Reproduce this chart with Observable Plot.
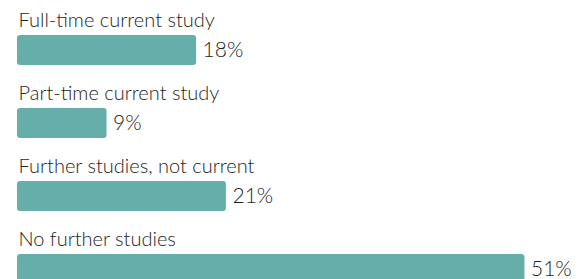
<!DOCTYPE html>
<html>
<head>
<meta charset="utf-8">
<script src="https://cdn.jsdelivr.net/npm/d3@7"></script>
<script src="https://cdn.jsdelivr.net/npm/@observablehq/plot@0.6"></script>
<style>
  html, body { margin: 0; padding: 0; background: #fff; }
  #chart svg { display: block; }
</style>
</head>
<body>
<div id="chart"></div>
<script>
const categories = [
  "Full-time current study",
  "Part-time current study",
  "Further studies, not current",
  "No further studies"
];
const values = [18, 9, 21, 51];
const valueLabels = ["18%", "9%", "21%", "51%"];

const data = categories.map((c, i) => ({category: c, value: values[i], label: valueLabels[i]}));

const W = 581, H = 279;
const chart = Plot.plot({
  width: W,
  height: H,
  marginLeft: 0,
  marginRight: 0,
  marginTop: 0,
  marginBottom: 0,
  style: {fontFamily: "Lato, sans-serif", background: "#fff", overflow: "hidden"},
  x: {domain: [0, 56], range: [17, 17 + 56 * 9.95], axis: null},
  y: {domain: categories, range: [0, 292], padding: 0, axis: null},
  marks: [
    Plot.barX(data, {
      x1: 0, x2: "value", y: "category",
      fill: "#66aea9", insetTop: 35, insetBottom: 8, rx: 3
    }),
    Plot.text(data, {
      x: 0, y: "category", text: "category",
      textAnchor: "start", dx: 1, dy: -16, fontSize: 20, fontWeight: 300, fill: "#1e1e1e"
    }),
    Plot.text(data, {
      x: "value", y: "category", text: "label",
      textAnchor: "start", dx: 6, dy: 13, fontSize: 21, fontWeight: 300, fill: "#1e1e1e"
    })
  ]
});
document.getElementById("chart").appendChild(chart);
</script>
</body>
</html>
